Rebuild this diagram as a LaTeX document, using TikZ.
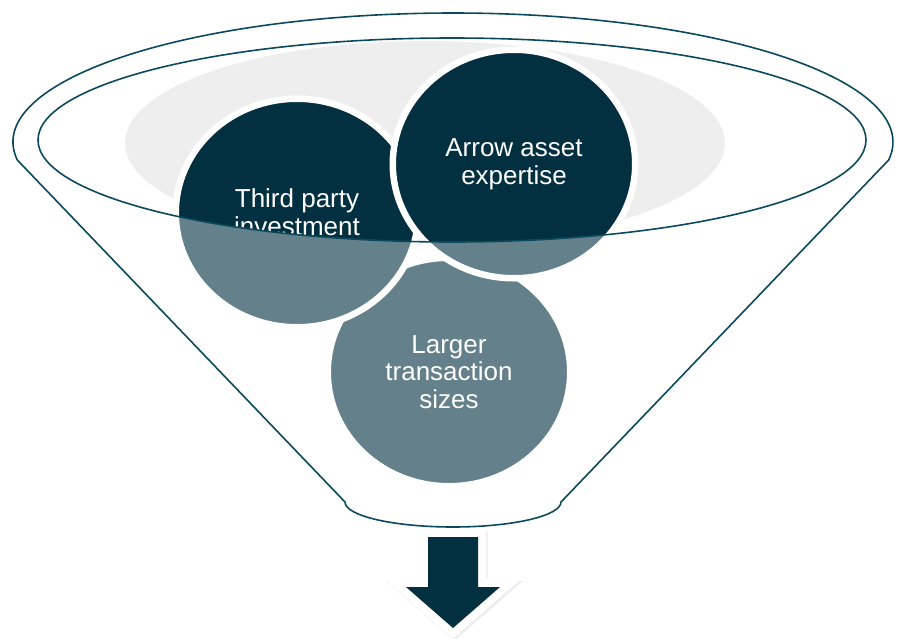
\documentclass[tikz,border=0pt]{standalone}
\usepackage{fontspec}
\setmainfont{Liberation Sans}
\usetikzlibrary{shapes.geometric,shadows}
\definecolor{darkteal}{HTML}{033040}
\definecolor{funnelcol}{HTML}{0B4A5E}
\definecolor{paleGrey}{HTML}{EEEEEE}
\begin{document}
\begin{tikzpicture}[x=1pt,y=-1pt,
  bubble/.style={ellipse, fill=darkteal, draw=white, line width=6.5pt,
    minimum width=242.5pt, minimum height=228.5pt, inner sep=0pt,
    text=white, align=center, font=\fontsize{26}{27.5}\selectfont,
    drop shadow={opacity=0.2, shadow xshift=1.5pt, shadow yshift=-2pt}},
  bubbletext/.style={text=white, align=center, inner sep=0pt, font=\fontsize{26}{27.5}\selectfont},
  outline/.style={draw=funnelcol, line width=1.6pt},
  arrowshadow/.style={draw=black, fill=black, opacity=0.07, line width=16pt, line join=miter},
  arrowborder/.style={draw=white, fill=white, line width=16pt, line join=miter},
  arrowfill/.style={fill=darkteal}
]
\useasboundingbox (0,0) rectangle (898,638);
\fill[white] (0,0) rectangle (898,638);

% light grey ellipse inside the funnel mouth
\fill[paleGrey] (425,143) ellipse [x radius=300pt, y radius=102pt];

% bubbles
\node[bubble] (lt) at (449,372) {Larger\\transaction\\sizes};
\node[bubble] (tp) at (297,213) {};
\node[bubble] (aa) at (514,164) {Arrow asset\\expertise};

% translucent funnel body (below the mouth)
\path[fill=white, fill opacity=0.39, even odd rule]
  (17.3,160) arc[start angle=188.02, end angle=-8.02, x radius=440pt, y radius=129pt]
  -- (561,502) arc[start angle=0, end angle=-180, x radius=108pt, y radius=25pt] -- cycle
  (452,140) ellipse [x radius=414pt, y radius=102pt];

% third party label, visible only inside the mouth
\begin{scope}
  \clip (452,140) ellipse [x radius=414pt, y radius=102pt];
  \node[bubbletext] (tptext) at (297,212) {Third party\\investment};
\end{scope}

% funnel outlines
\draw[outline]
  (17.3,160) arc[start angle=188.02, end angle=-8.02, x radius=440pt, y radius=129pt]
  -- (561,502) arc[start angle=0, end angle=-180, x radius=108pt, y radius=25pt] -- cycle;
\draw[outline] (452,140) ellipse [x radius=414pt, y radius=102pt];

% down arrow
\path[arrowshadow, xshift=1.5pt, yshift=-2pt]
  (428,537) -- (478,537) -- (478,587) -- (500,587) -- (453,628) -- (406,587) -- (428,587) -- cycle;
\path[arrowborder]
  (428,537) -- (478,537) -- (478,587) -- (500,587) -- (453,628) -- (406,587) -- (428,587) -- cycle;
\path[arrowfill]
  (428,537) -- (478,537) -- (478,587) -- (500,587) -- (453,628) -- (406,587) -- (428,587) -- cycle;
\end{tikzpicture}
\end{document}
